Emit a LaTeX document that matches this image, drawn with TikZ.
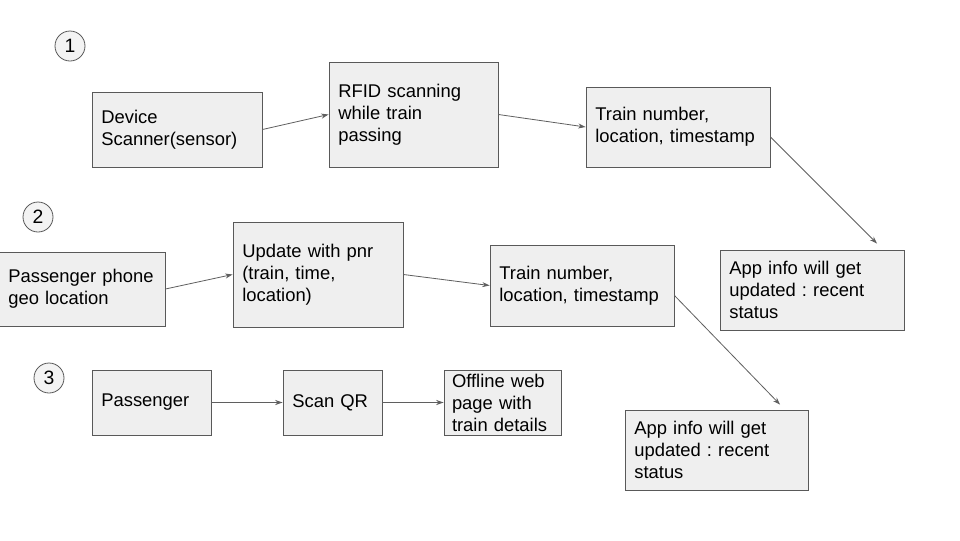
\documentclass[tikz,border=0pt]{standalone}
\usepackage{fontspec}
\setmainfont{Liberation Sans}
\usetikzlibrary{arrows.meta,calc}
\definecolor{boxfill}{HTML}{EFEFEF}
\definecolor{boxline}{HTML}{595959}
\definecolor{arrline}{HTML}{5F5F5F}
\definecolor{circfill}{HTML}{F3F3F3}
\frenchspacing
\begin{document}
\begin{tikzpicture}[x=0.75pt,y=-0.75pt,
  box/.style={draw=boxline,fill=boxfill,line width=0.7pt,inner xsep=7pt,inner ysep=2pt,
    align=left,font=\fontsize{13.8}{16.5}\selectfont\frenchspacing},
  numcirc/.style={circle,draw=boxline,fill=circfill,line width=0.6pt,minimum size=22.5pt,inner sep=0pt,
    font=\fontsize{14.5}{16.5}\selectfont},
  arr/.style={draw=arrline,line width=0.6pt,-{Stealth[length=5.5pt,width=3.8pt]}}]
\useasboundingbox[fill=white] (0,0) rectangle (960,540);

% step numbers
\node[numcirc] (c1) at (70,46) {1};
\node[numcirc] (c2) at (38,217) {2};
\node[numcirc] (c3) at (49,378) {3};

% row 1
\node[box,text width=113.5pt,minimum height=56.25pt] (dev) at (177,129.5) {Device\\Scanner(sensor)};
\node[box,text width=112.75pt,minimum height=78.75pt] (rfid) at (413.5,114.5) {RFID scanning\\while train\\passing};
\node[box,text width=124pt,minimum height=60pt] (t1) at (678,127) {Train number,\\location, timestamp};
\node[box,text width=124pt,minimum height=60pt] (app1) at (812,290) {App info will get\\updated : recent\\status};

% row 2
\node[box,text width=110.5pt,minimum height=55.5pt] (pp) at (82,289) {Passenger phone\\geo location};
\node[box,text width=113.5pt,minimum height=78.75pt] (upd) at (318,274.5) {Update with pnr\\(train, time,\\location)};
\node[box,text width=124pt,minimum height=60.75pt] (t2) at (582,285.5) {Train number,\\location, timestamp};
\node[box,text width=123.25pt,minimum height=60pt] (app2) at (716.5,450) {App info will get\\updated : recent\\status};

% row 3
\node[box,text width=75.25pt,minimum height=48.75pt] (pas) at (151.5,402.5) {Passenger};
\node[box,text width=60.25pt,minimum height=48.75pt] (qr) at (332.5,402.5) {Scan QR};
\node[box,text width=75.75pt,inner xsep=6pt,minimum height=48.75pt,inner ysep=0pt] (off) at (502.5,402.5) {Offline web\\page with\\train details};

% connectors
\draw[arr] (dev.east) -- (rfid.west);
\draw[arr] (rfid.east) -- (t1.west);
\draw[arr] ($(t1.east)+(0,10)$) -- ($(app1.north)+(65,-6)$);
\draw[arr] (pp.east) -- (upd.west);
\draw[arr] (upd.east) -- (t2.west);
\draw[arr] ($(t2.east)+(0,10)$) -- ($(app2.north)+(63.5,-5)$);
\draw[arr] (pas.east) -- (qr.west);
\draw[arr] (qr.east) -- (off.west);
\end{tikzpicture}
\end{document}
